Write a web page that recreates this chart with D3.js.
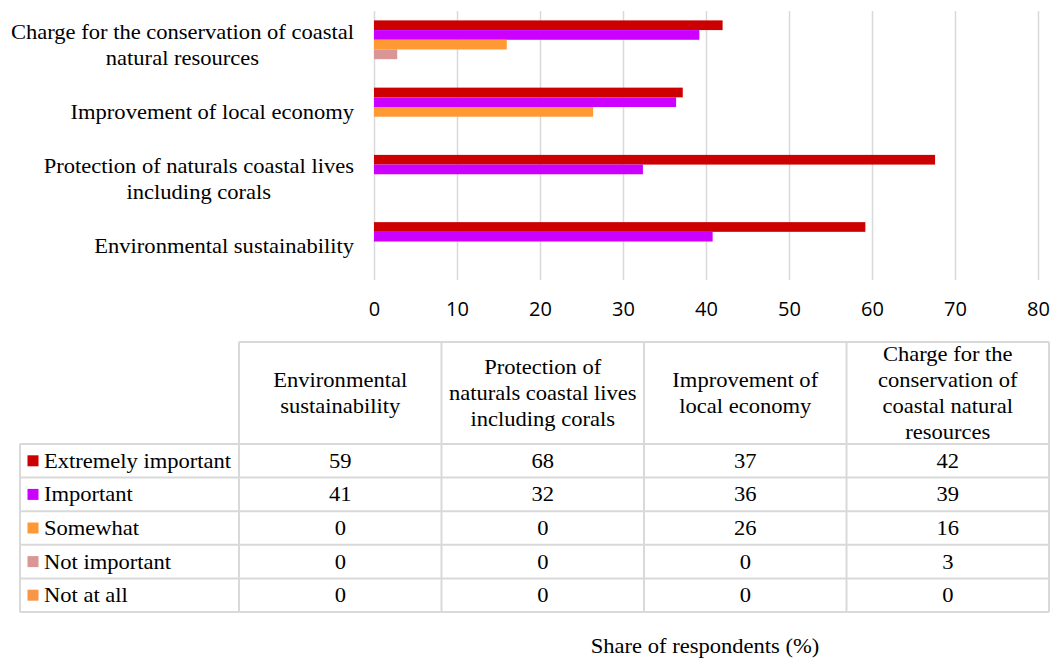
<!DOCTYPE html>
<html>
<head>
<meta charset="utf-8">
<script src="https://cdn.jsdelivr.net/npm/d3@7"></script>
<style>
  body { margin: 0; background: #fff; }
  svg { display: block; }
</style>
</head>
<body>
<div id="chart"></div>
<script>
// categories, bottom to top in the chart, left to right in the table
const categories = [
  "Environmental sustainability",
  "Protection of naturals coastal lives including corals",
  "Improvement of local economy",
  "Charge for the conservation of coastal natural resources"
];
const chartLabelLines = [
  ["Environmental sustainability"],
  ["Protection of naturals coastal lives", "including corals"],
  ["Improvement of local economy"],
  ["Charge for the conservation of coastal", "natural resources"]
];
const tableHeaderLines = [
  ["Environmental", "sustainability"],
  ["Protection of", "naturals coastal lives", "including corals"],
  ["Improvement of", "local economy"],
  ["Charge for the", "conservation of", "coastal natural", "resources"]
];

const seriesNames = ["Extremely important", "Important", "Somewhat", "Not important", "Not at all"];
const seriesColors = ["#cc0000", "#cc00ff", "#ff9933", "#da9694", "#f79646"];

const extremely    = [59.2, 67.6, 37.2, 42.0];
const important    = [40.8, 32.4, 36.4, 39.2];
const somewhat     = [0, 0, 26.4, 16.0];
const notImportant = [0, 0, 0, 2.8];
const notAtAll     = [0, 0, 0, 0];
const seriesValues = [extremely, important, somewhat, notImportant, notAtAll];

const xTicks = [0, 10, 20, 30, 40, 50, 60, 70, 80];
const xTitle = "Share of respondents (%)";

const w = 1056;
const h = 661;
const SX = 1.1; // serif text in the picture runs a bit wide
const serif = "'Liberation Serif', 'Times New Roman', serif";

const svg = d3.select("#chart")
              .append("svg")
              .attr("width", w)
              .attr("height", h);

function serifText(g, x, y, str, anchor) {
  return g.append("text")
          .attr("transform", "translate(" + x + "," + y + ") scale(" + SX + ",1)")
          .attr("dy", "0.34em")
          .attr("text-anchor", anchor || "middle")
          .style("font-family", serif)
          .style("font-size", "20.5px")
          .attr("fill", "#000")
          .text(str);
}

// ---- bar chart ----
const plotLeft = 374, plotRight = 1038, plotTop = 11, plotBottom = 280;

const xScale = d3.scaleLinear()
                 .domain([0, 80])
                 .range([plotLeft, plotRight]);

const yScale = d3.scaleBand()
                 .domain(categories.slice().reverse())
                 .range([plotTop, plotBottom])
                 .paddingInner(0.279)
                 .paddingOuter(0.1395);

const ySub = d3.scaleBand()
               .domain(seriesNames)
               .range([0, yScale.bandwidth()]);

// gridlines
const grid = svg.append("g")
                .attr("transform", "translate(0," + plotBottom + ")")
                .call(d3.axisBottom(xScale).tickValues(xTicks).tickSize(-(plotBottom - plotTop)).tickFormat(""));
grid.select(".domain").remove();
grid.selectAll("line").attr("stroke", "#d9d9d9").attr("stroke-width", 1.5);

// tick labels
const xAxis = svg.append("g")
                 .attr("transform", "translate(0," + plotBottom + ")")
                 .call(d3.axisBottom(xScale).tickValues(xTicks).tickSize(0));
xAxis.select(".domain").remove();
xAxis.selectAll("text")
     .attr("y", 29)
     .attr("dy", "0.36em")
     .attr("fill", "#000")
     .style("font-family", "'Open Sans', sans-serif")
     .style("font-size", "20px");

// bars
const groups = svg.append("g")
                  .selectAll("g")
                  .data(categories)
                  .enter()
                  .append("g")
                  .attr("transform", (d) => "translate(0," + yScale(d) + ")");

groups.selectAll("rect")
      .data((d, ci) => seriesNames.map((s, si) => ({ s: s, si: si, v: seriesValues[si][ci] })))
      .enter()
      .append("rect")
      .attr("x", xScale(0))
      .attr("y", (d) => ySub(d.s))
      .attr("width", (d) => xScale(d.v) - xScale(0))
      .attr("height", ySub.bandwidth())
      .attr("fill", (d) => seriesColors[d.si]);

// category labels (block right-aligned, lines centred)
const labelRight = 354;
const lineH = 26;
categories.forEach((c, ci) => {
  const lines = chartLabelLines[ci];
  const cy = yScale(c) + yScale.bandwidth() / 2;
  const g = svg.append("g");
  const nodes = lines.map((l, li) => serifText(g, 0, cy + (li - (lines.length - 1) / 2) * lineH, l));
  const maxW = d3.max(nodes, (n) => n.node().getComputedTextLength()) * SX;
  nodes.forEach((n, li) => {
    n.attr("transform", "translate(" + (labelRight - maxW / 2) + "," + (cy + (li - (lines.length - 1) / 2) * lineH) + ") scale(" + SX + ",1)");
  });
});

// ---- data table ----
const tLeft = 20, tKeyRight = 239, tRight = 1049;
const tTop = 342, tHeadBottom = 444, tBottom = 612;
const border = "#d9d9d9";

const colScale = d3.scaleBand()
                   .domain(categories)
                   .range([tKeyRight, tRight]);

const rowScale = d3.scaleBand()
                   .domain(seriesNames)
                   .range([tHeadBottom, tBottom]);

const table = svg.append("g");

// horizontal rules
table.append("line")
     .attr("x1", tKeyRight).attr("x2", tRight)
     .attr("y1", tTop).attr("y2", tTop);
table.selectAll(".hrow")
     .data(seriesNames.concat(["end"]))
     .enter()
     .append("line")
     .attr("x1", tLeft).attr("x2", tRight)
     .attr("y1", (d) => d === "end" ? tBottom : rowScale(d))
     .attr("y2", (d) => d === "end" ? tBottom : rowScale(d));
// vertical rules
table.append("line")
     .attr("x1", tLeft).attr("x2", tLeft)
     .attr("y1", tHeadBottom).attr("y2", tBottom);
table.selectAll(".vcol")
     .data(categories.concat(["end"]))
     .enter()
     .append("line")
     .attr("x1", (d) => d === "end" ? tRight : colScale(d))
     .attr("x2", (d) => d === "end" ? tRight : colScale(d))
     .attr("y1", tTop).attr("y2", tBottom);
table.selectAll("line")
     .attr("stroke", border)
     .attr("stroke-width", 2);

// header cells
categories.forEach((c, ci) => {
  const lines = tableHeaderLines[ci];
  const cx = colScale(c) + colScale.bandwidth() / 2;
  const cy = (tTop + tHeadBottom) / 2;
  lines.forEach((l, li) => serifText(table, cx, cy + (li - (lines.length - 1) / 2) * lineH, l));
});

// legend keys + row names
seriesNames.forEach((s, si) => {
  const cy = rowScale(s) + rowScale.bandwidth() / 2;
  table.append("rect")
       .attr("x", 27.5)
       .attr("y", cy - 5.5)
       .attr("width", 11)
       .attr("height", 11)
       .attr("fill", seriesColors[si]);
  serifText(table, 44, cy, s, "start");
  categories.forEach((c, ci) => {
    serifText(table, colScale(c) + colScale.bandwidth() / 2, cy, d3.format(".0f")(seriesValues[si][ci]));
  });
});

// axis title
serifText(svg, 705, 646, xTitle);
</script>
</body>
</html>
